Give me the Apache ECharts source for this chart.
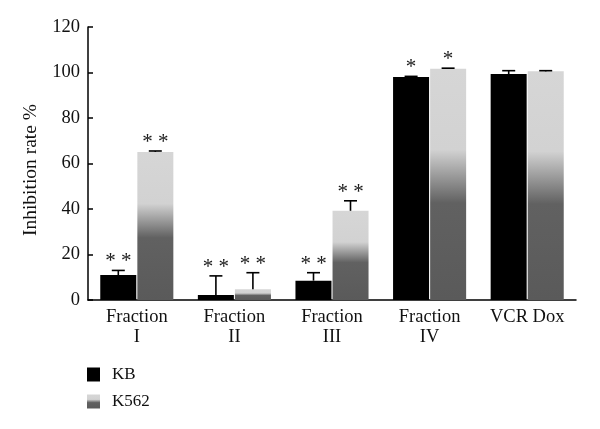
<!DOCTYPE html>
<html>
<head>
<meta charset="utf-8">
<script src="https://cdn.jsdelivr.net/npm/echarts@6/dist/echarts.min.js"></script>
<style>html,body{margin:0;padding:0;background:#fff;}#c{width:600px;height:429px;}</style>
</head>
<body>
<div id="c"></div>
<script>
var categories = ['Fraction\nI', 'Fraction\nII', 'Fraction\nIII', 'Fraction\nIV', 'VCR Dox'];
var kbValues = [11, 2.2, 8.5, 98, 99.3];
var kbErrors = [2, 8.4, 3.5, 0.3, 1.5];
var kbSignif = ['**', '**', '**', '*', ''];
var k562Values = [65.1, 4.7, 39.2, 101.6, 100.5];
var k562Errors = [0.4, 7.3, 4.4, 0.3, 0.3];
var k562Signif = ['**', '**', '**', '*', ''];
var yTicks = [0, 20, 40, 60, 80, 100, 120];

var FONT = 'Liberation Serif';
var BAR_W = 36;
var GAP = 1;

var k562Gradient = {
  type: 'linear', x: 0, y: 0, x2: 0, y2: 1,
  colorStops: [
    {offset: 0, color: '#d6d6d6'},
    {offset: 0.35, color: '#d2d2d2'},
    {offset: 0.58, color: '#616161'},
    {offset: 1, color: '#5a5a5a'}
  ]
};

function errorSeries(values, errors, signif, side) {
  return {
    type: 'custom',
    silent: true,
    z: 10,
    data: values.map(function (v, i) { return [i, v, v + errors[i], signif[i]]; }),
    renderItem: function (params, api) {
      var i = api.value(0);
      var base = api.coord([i, api.value(1)]);
      var top = api.coord([i, api.value(2)]);
      var dx = side * (BAR_W / 2 + GAP / 2);
      var x = base[0] + dx;
      var cap = 6.5;
      var s = signif[i];
      var children = [
        {type: 'line', shape: {x1: x, y1: base[1], x2: x, y2: top[1]}, style: {stroke: '#000', lineWidth: 1.6}},
        {type: 'line', shape: {x1: x - cap, y1: top[1], x2: x + cap, y2: top[1]}, style: {stroke: '#000', lineWidth: 1.6}}
      ];
      if (s) {
        children.push({
          type: 'text',
          style: {
            text: s.split('').join(' '),
            x: x, y: top[1] + 2,
            textAlign: 'center', textVerticalAlign: 'bottom',
            font: '21px "' + FONT + '"', fill: '#1a1a1a'
          }
        });
      }
      return {type: 'group', children: children};
    }
  };
}

var chart = echarts.init(document.getElementById('c'), null, {renderer: 'canvas'});
chart.setOption({
  animation: false,
  backgroundColor: '#fff',
  textStyle: {fontFamily: FONT},
  grid: {left: 88, right: 24, top: 27, bottom: 129, containLabel: false},
  legend: {
    orient: 'vertical', left: 87, top: 366, padding: 0,
    itemWidth: 13, itemHeight: 14, itemGap: 10,
    icon: 'rect',
    textStyle: {fontFamily: FONT, fontSize: 17, color: '#111', padding: [0, 0, 0, 7]},
    data: ['KB', 'K562']
  },
  xAxis: {
    type: 'category',
    data: categories,
    axisLine: {lineStyle: {color: '#000', width: 1.5}},
    axisTick: {inside: true, length: 5, lineStyle: {color: '#000', width: 1.5}},
    axisLabel: {color: '#111', fontSize: 18.5, lineHeight: 20, margin: 7, fontFamily: FONT, interval: 0}
  },
  yAxis: {
    type: 'value', min: 0, max: 120, interval: 20,
    name: 'Inhibition rate %', nameLocation: 'middle', nameGap: 47,
    nameTextStyle: {fontSize: 19.5, color: '#111', fontFamily: FONT, padding: [0, 13, 0, 0]},
    axisLine: {show: true, lineStyle: {color: '#000', width: 1.5}},
    axisTick: {show: true, inside: true, length: 5, lineStyle: {color: '#000', width: 1.5}},
    axisLabel: {color: '#111', fontSize: 18.5, margin: 8, fontFamily: FONT,
      formatter: function (v) { return yTicks.indexOf(v) >= 0 ? String(v) : ''; }},
    splitLine: {show: false}
  },
  series: [
    {name: 'KB', type: 'bar', data: kbValues, barWidth: BAR_W, barGap: '3%',
      itemStyle: {color: '#000'}},
    {name: 'K562', type: 'bar', data: k562Values, barWidth: BAR_W, barGap: '3%',
      itemStyle: {color: k562Gradient}},
    errorSeries(kbValues, kbErrors, kbSignif, -1),
    errorSeries(k562Values, k562Errors, k562Signif, 1)
  ]
});
</script>
</body>
</html>
